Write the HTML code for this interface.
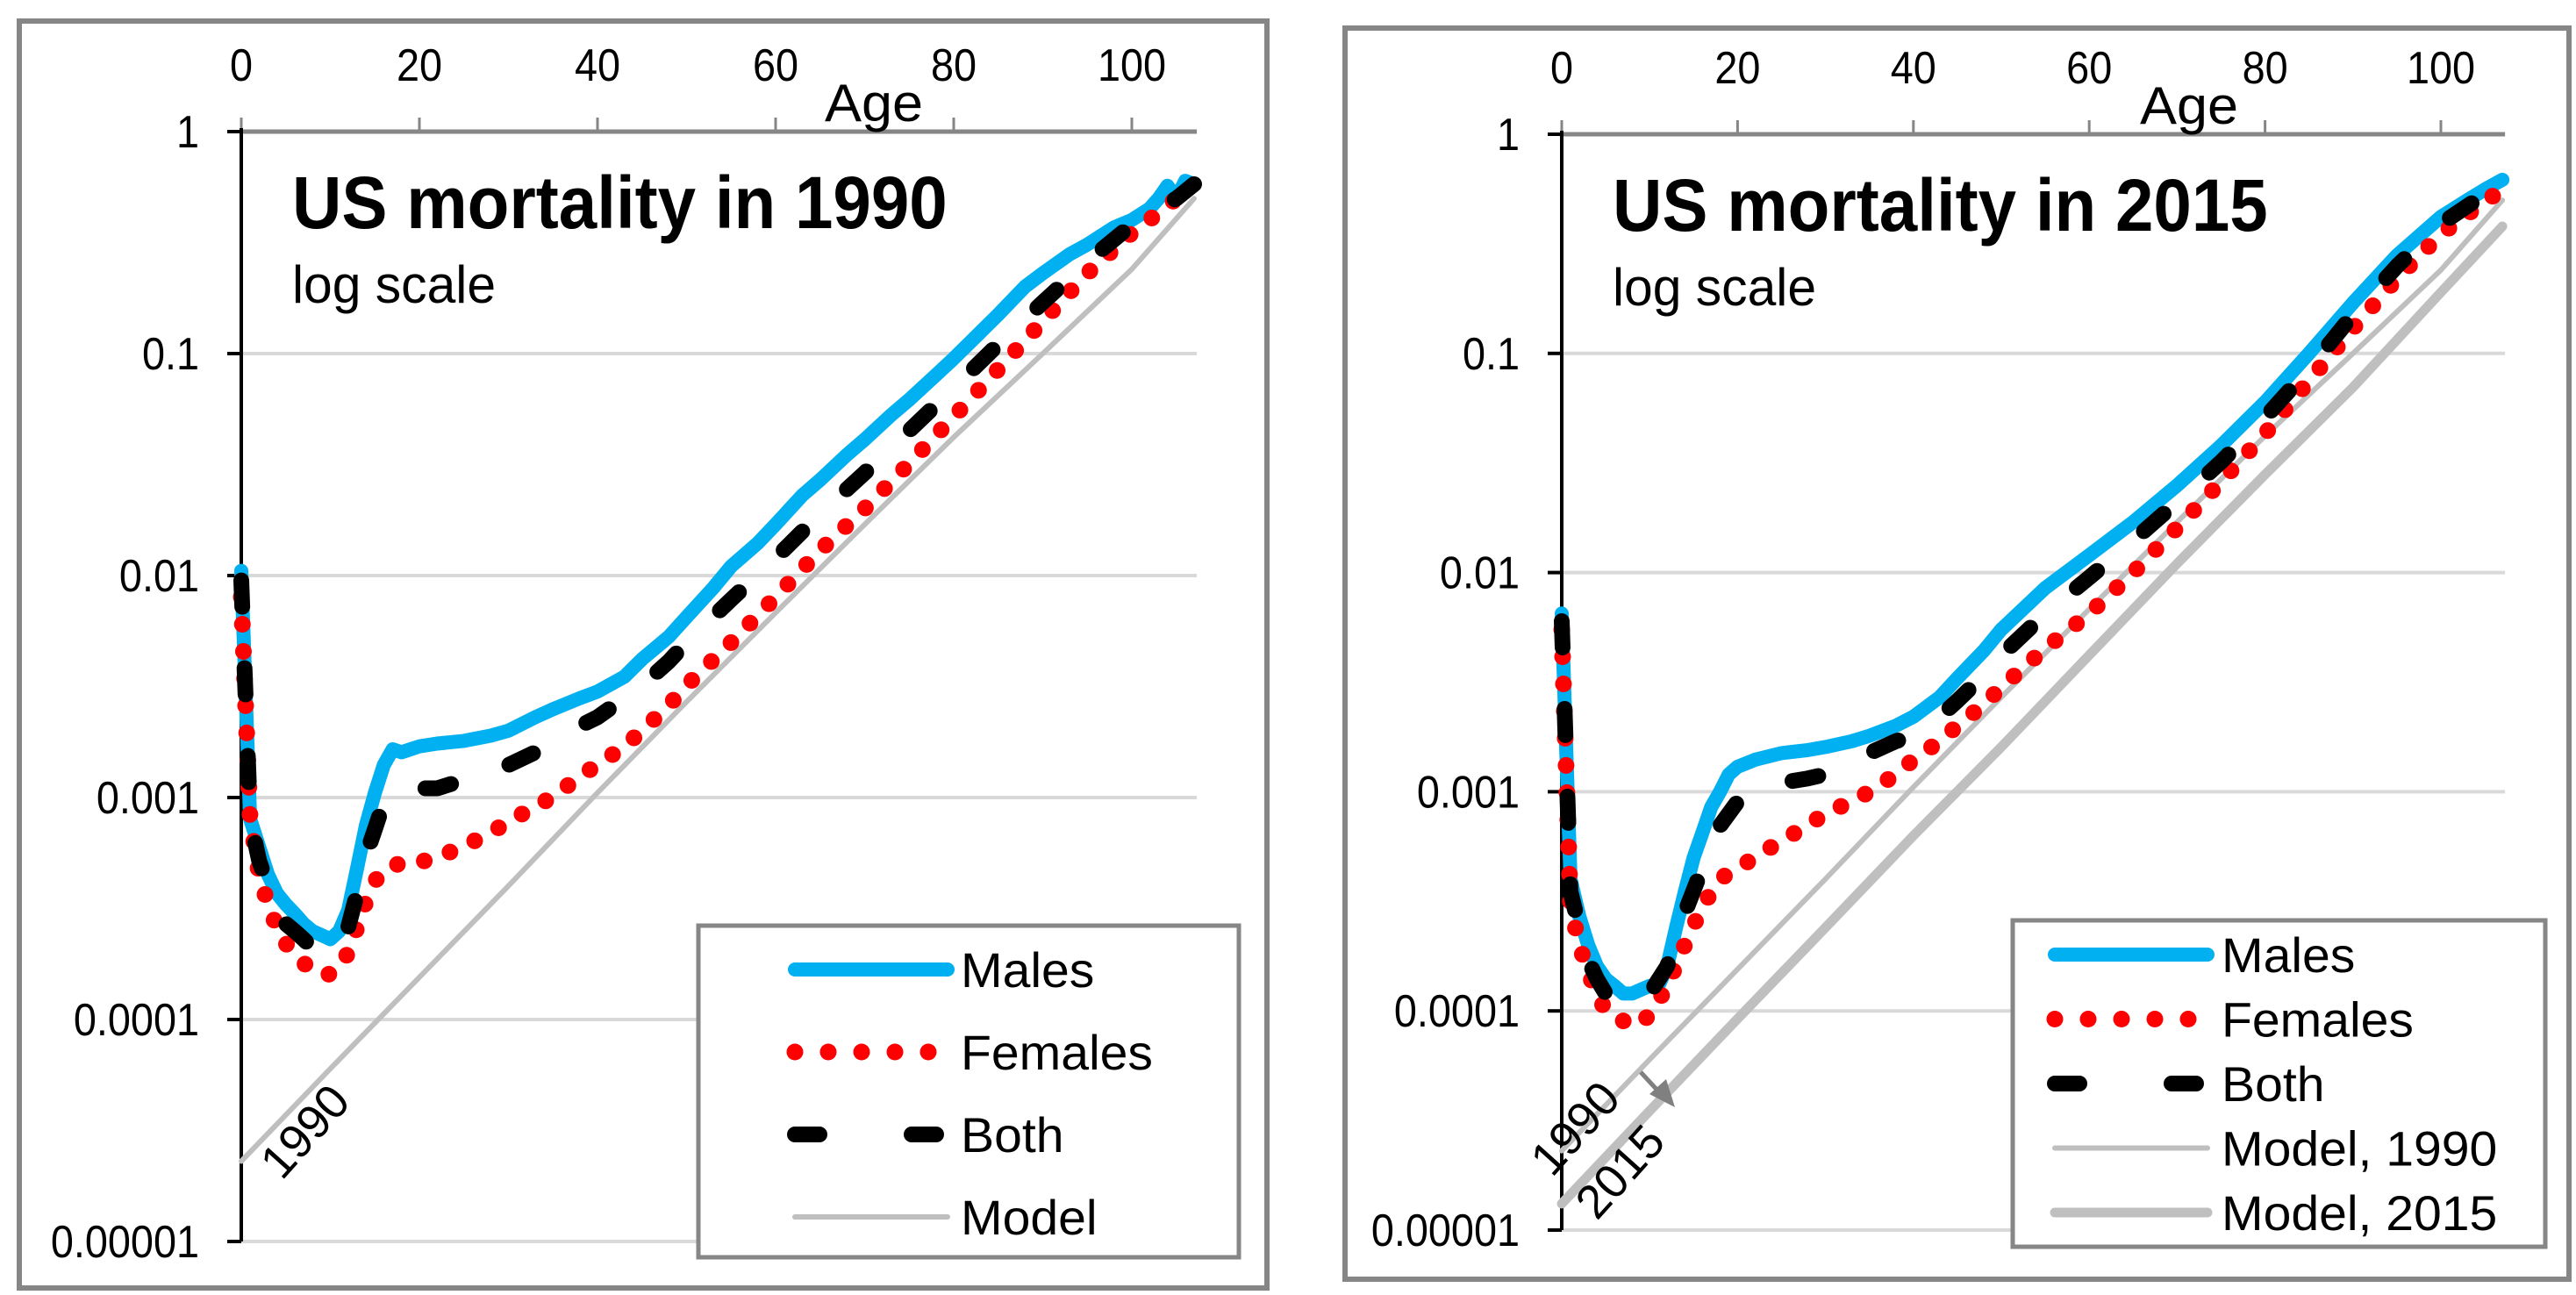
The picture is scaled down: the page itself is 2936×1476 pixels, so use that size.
<!DOCTYPE html>
<html><head><meta charset="utf-8"><style>
html,body{margin:0;padding:0;background:#fff;}
svg{display:block;}
text{font-family:"Liberation Sans Narrow","Liberation Sans",sans-serif;}
</style></head><body>
<svg id="chart" width="2936" height="1476" viewBox="0 0 2936 1476" xmlns="http://www.w3.org/2000/svg"></svg>
<script>
// ---- data ----
const xTicks = [0, 20, 40, 60, 80, 100];
const yTicks = [1, 0.1, 0.01, 0.001, 0.0001, 0.00001];
const yTickLabels = ["1", "0.1", "0.01", "0.001", "0.0001", "0.00001"];

// 1990
const males1990Ages = [0,1,2,3,4,5,6,7,8,9,10,11,12,13,14,15,16,17,18,19,20,22,25,28,30,33,35,38,40,43,45,48,50,53,55,58,60,63,65,68,70,73,75,78,80,83,85,88,90,93,95,98,100,102,103,104,105,106,107];
const males1990Vals = [0.0105,0.0008,0.0006,0.00045,0.00037,0.00033,0.0003,0.00027,0.00025,0.00024,0.00023,0.00025,0.00031,0.00048,0.00075,0.00105,0.0014,0.00165,0.0016,0.00165,0.0017,0.00175,0.0018,0.0019,0.002,0.0023,0.0025,0.0028,0.003,0.0035,0.0042,0.0053,0.0065,0.0088,0.011,0.014,0.017,0.023,0.027,0.035,0.041,0.053,0.062,0.08,0.095,0.125,0.15,0.2,0.23,0.28,0.31,0.37,0.4,0.45,0.5,0.57,0.5,0.6,0.58];
const females1990Ages = [0,1,2,3,4,5,6,7,8,9,10,11,12,13,14,15,16,17,18,20,22,25,28,30,33,35,38,40,43,45,48,50,55,60,65,70,75,80,85,90,95,100,103,105,107];
const females1990Vals = [0.008,0.0008,0.00045,0.00033,0.00026,0.00022,0.0002,0.00018,0.000165,0.00016,0.00016,0.00017,0.0002,0.00026,0.00034,0.00042,0.00047,0.0005,0.0005,0.00051,0.00054,0.0006,0.0007,0.00077,0.00092,0.001,0.00125,0.0014,0.0017,0.002,0.0026,0.0032,0.005,0.008,0.013,0.02,0.032,0.052,0.085,0.14,0.23,0.35,0.43,0.5,0.55];
const both1990Ages = [0,1,2,3,4,5,6,7,8,9,10,11,12,13,14,15,16,17,18,20,22,25,28,30,33,35,38,40,43,45,48,50,55,60,65,70,75,80,85,90,95,100,103,105,107];
const both1990Vals = [0.0095,0.0008,0.00052,0.0004,0.00031,0.00027,0.00025,0.00023,0.00021,0.0002,0.0002,0.00021,0.00026,0.00037,0.00055,0.00072,0.00095,0.00105,0.00105,0.0011,0.0011,0.0012,0.0013,0.0014,0.0016,0.0018,0.0021,0.0023,0.0028,0.0032,0.0041,0.005,0.0078,0.012,0.019,0.029,0.045,0.07,0.11,0.17,0.26,0.38,0.45,0.5,0.58];
const model1990Ages = [0,10,20,30,40,50,60,70,80,90,100,107];
const model1990Vals = [0.000023,0.00006,0.000155,0.0004,0.00105,0.0027,0.0068,0.017,0.042,0.1,0.24,0.5];

// 2015
const males2015Ages = [0,1,2,3,4,5,6,7,8,9,10,11,12,13,14,15,16,17,18,19,20,22,25,28,30,33,35,38,40,43,45,48,50,55,60,65,70,75,80,85,90,95,100,103,105,107];
const males2015Vals = [0.0065,0.0004,0.00027,0.0002,0.00016,0.00014,0.00013,0.00012,0.00012,0.000125,0.00013,0.00013,0.00016,0.00024,0.00035,0.0005,0.00065,0.00085,0.001,0.0012,0.0013,0.0014,0.0015,0.00155,0.0016,0.0017,0.0018,0.002,0.0022,0.0027,0.0033,0.0044,0.0055,0.0085,0.012,0.017,0.025,0.038,0.06,0.1,0.17,0.28,0.42,0.5,0.56,0.62];
const females2015Ages = [0,1,2,3,4,5,6,7,8,9,10,12,14,16,18,20,22,25,28,30,33,35,38,40,43,45,48,50,55,60,65,70,75,80,85,90,95,100,103,105,107];
const females2015Vals = [0.0055,0.0003,0.0002,0.00015,0.00012,0.0001,0.000095,0.00009,0.000085,0.00009,0.000095,0.00013,0.0002,0.0003,0.0004,0.00045,0.0005,0.0006,0.0007,0.0008,0.0009,0.001,0.0012,0.0014,0.0017,0.002,0.0025,0.003,0.0045,0.0065,0.01,0.016,0.026,0.043,0.075,0.13,0.22,0.35,0.43,0.5,0.55];
const both2015Ages = [0,1,2,3,4,5,6,7,8,9,10,12,14,16,18,20,22,25,28,30,33,35,38,40,43,45,48,50,55,60,65,70,75,80,85,90,95,100,103,105,107];
const both2015Vals = [0.006,0.00035,0.00024,0.00017,0.00014,0.00012,0.000115,0.00011,0.000105,0.00011,0.00012,0.00016,0.00028,0.00045,0.0007,0.0009,0.001,0.0011,0.00115,0.0012,0.0014,0.0015,0.0017,0.0018,0.0022,0.0026,0.0034,0.0042,0.0065,0.0095,0.014,0.021,0.032,0.051,0.085,0.15,0.25,0.39,0.47,0.53,0.6];
const model2015Ages = [0,10,20,30,40,50,60,70,80,90,100,107];
const model2015Vals = [0.0000132,0.000035,0.000092,0.00024,0.00063,0.0016,0.0042,0.011,0.028,0.07,0.19,0.38];

const NS = "http://www.w3.org/2000/svg";
const svg = document.getElementById('chart');
function mk(tag, attrs, parent){ const e=document.createElementNS(NS,tag); for(const k in attrs) e.setAttribute(k,attrs[k]); (parent||svg).appendChild(e); return e; }
function txt(parent, x, y, str, size, anchor, weight, rot, sx){
  const tf = `translate(${x} ${y})` + (rot ? ` rotate(${rot})` : '') + ` scale(${sx||1} 1)`;
  const t = mk('text',{x:0,y:0,transform:tf,'font-size':size,'text-anchor':anchor||'start','font-weight':weight||'normal',fill:'#000'},parent);
  t.textContent = str;
  return t;
}

function panel(cfg){
  const g = mk('g',{});
  
  
  const X = a => cfg.x0 + a*cfg.pxYear;
  const Y = v => cfg.y1 - Math.log10(v)*cfg.decade;
  const xEnd = X(cfg.maxAge);
  const fr = mk('rect',{x:cfg.fx,y:cfg.fy,width:cfg.fw,height:cfg.fh,fill:'none',stroke:'#868686','stroke-width':6},g);
  
  
  yTicks.forEach((t,i)=>{
    if(i>0){
      const l = mk('line',{x1:cfg.x0,x2:xEnd,y1:Y(t),y2:Y(t),stroke:'#d9d9d9','stroke-width':4},g);
      
      
    }
    const tk = mk('line',{x1:cfg.x0-16,x2:cfg.x0,y1:Y(t),y2:Y(t),stroke:'#000','stroke-width':4},g);
    
    
    const tx = txt(g, cfg.x0-48, Y(t)+18, yTickLabels[i], 52, 'end', 'normal', 0, 0.9);
    
    
  });
  const xa = mk('line',{x1:cfg.x0,x2:xEnd,y1:cfg.y1,y2:cfg.y1,stroke:'#868686','stroke-width':5},g);
  
  
  xTicks.forEach(t=>{
    const tk = mk('line',{x1:X(t),x2:X(t),y1:cfg.y1,y2:cfg.y1-16,stroke:'#868686','stroke-width':3},g);
    
    
    const tx = txt(g, X(t), cfg.y1-58, String(t), 52, 'middle', 'normal', 0, 0.9);
    
    
  });
  const at = txt(g, cfg.ageX, cfg.y1-12, 'Age', 60, 'middle', 'normal', 0, 1.05);
  
  
  const ya = mk('line',{x1:cfg.x0,x2:cfg.x0,y1:cfg.y1-4,y2:Y(0.00001),stroke:'#000','stroke-width':4},g);
  
  
  const t1 = txt(g, cfg.titleX, cfg.y1+110, cfg.title, 84, 'start', 'bold', 0, 0.93);
  
  
  const t2 = txt(g, cfg.titleX, cfg.y1+195, 'log scale', 60, 'start', 'normal', 0, 0.98);
  
  
  const path=(ages,vals)=>ages.map((a,i)=>(i?'L':'M')+X(a).toFixed(1)+','+Y(vals[i]).toFixed(1)).join(' ');
  cfg.series.forEach(s=>{
    const p = mk('path',Object.assign({d:path(s.ages,s.vals),fill:'none','stroke-linejoin':'round'},s.style),g);
    
    
  });
  cfg.labels.forEach(lb=>{
    const tx = txt(g, X(lb.age), Y(lb.val), lb.text, 54, 'middle', 'normal', -48, 1);
    
    
  });
  const L = cfg.legend;
  const lr = mk('rect',{x:L.x,y:L.y,width:L.w,height:L.h,fill:'#fff',stroke:'#868686','stroke-width':5},g);
  
  
  L.items.forEach((it,i)=>{
    const yy = L.y + L.first + i*L.step;
    const ln = mk('line',Object.assign({x1:L.lx1,x2:L.lx2,y1:yy,y2:yy},it.style),g);
    
    
    const tx = txt(g, L.tx, yy+20, it.text, 56, 'start', 'normal', 0, 1.02);
    
    
  });
  return {X,Y,g};
}

const sMale = {stroke:'#00b0f0','stroke-width':16,'stroke-linecap':'round'};
const sFem = {stroke:'#ff0000','stroke-width':19,'stroke-linecap':'round','stroke-dasharray':'0 31'};
const sBoth = {stroke:'#000','stroke-width':18,'stroke-linecap':'round','stroke-dasharray':'30 70'};
const sMod = {stroke:'#bfbfbf','stroke-width':6,'stroke-linecap':'round'};
const sMod2 = {stroke:'#bfbfbf','stroke-width':11,'stroke-linecap':'round'};

panel({name:'panel-1990', x0:275, pxYear:10.15, y1:150, decade:253, maxAge:107.3,
  fx:22, fy:24, fw:1422, fh:1444, ageX:996, titleX:333, title:'US mortality in 1990',
  series:[
    {name:'model-line',ages:model1990Ages,vals:model1990Vals,style:sMod},
    {name:'males-line',ages:males1990Ages,vals:males1990Vals,style:sMale},
    {name:'females-line',ages:females1990Ages,vals:females1990Vals,style:sFem},
    {name:'both-line',ages:both1990Ages,vals:both1990Vals,style:sBoth}],
  labels:[{text:'1990',age:8.5,val:0.000028}],
  legend:{x:796,y:1055,w:616,h:378,first:50,step:94,lx1:906,lx2:1080,tx:1095,
    items:[{text:'Males',style:sMale},{text:'Females',style:Object.assign({},sFem,{'stroke-dasharray':'0 38'})},{text:'Both',style:Object.assign({},sBoth,{'stroke-dasharray':'28 105'})},{text:'Model',style:sMod}]}
});

panel({name:'panel-2015', x0:1780, pxYear:10.02, y1:153, decade:249.8, maxAge:107.3,
  fx:1533, fy:32, fw:1395, fh:1426, ageX:2495, titleX:1838, title:'US mortality in 2015',
  series:[
    {name:'model-1990-line',ages:model1990Ages,vals:model1990Vals,style:sMod},
    {name:'model-2015-line',ages:model2015Ages,vals:model2015Vals,style:sMod2},
    {name:'males-line',ages:males2015Ages,vals:males2015Vals,style:sMale},
    {name:'females-line',ages:females2015Ages,vals:females2015Vals,style:sFem},
    {name:'both-line',ages:both2015Ages,vals:both2015Vals,style:sBoth}],
  labels:[{text:'1990',age:2.9,val:0.000026},{text:'2015',age:8.0,val:0.0000165}],
  legend:{x:2294,y:1049,w:607,h:372,first:39,step:73.5,lx1:2342,lx2:2516,tx:2532,
    items:[{text:'Males',style:sMale},{text:'Females',style:Object.assign({},sFem,{'stroke-dasharray':'0 38'})},{text:'Both',style:Object.assign({},sBoth,{'stroke-dasharray':'28 105'})},{text:'Model, 1990',style:sMod},{text:'Model, 2015',style:sMod2}]}
});
const ar = mk('line',{x1:1870,y1:1222,x2:1894,y2:1248,stroke:'#808080','stroke-width':5});


const ah = mk('polygon',{points:'1909,1262 1880,1247 1899,1230',fill:'#808080'});


</script>
</body></html>
